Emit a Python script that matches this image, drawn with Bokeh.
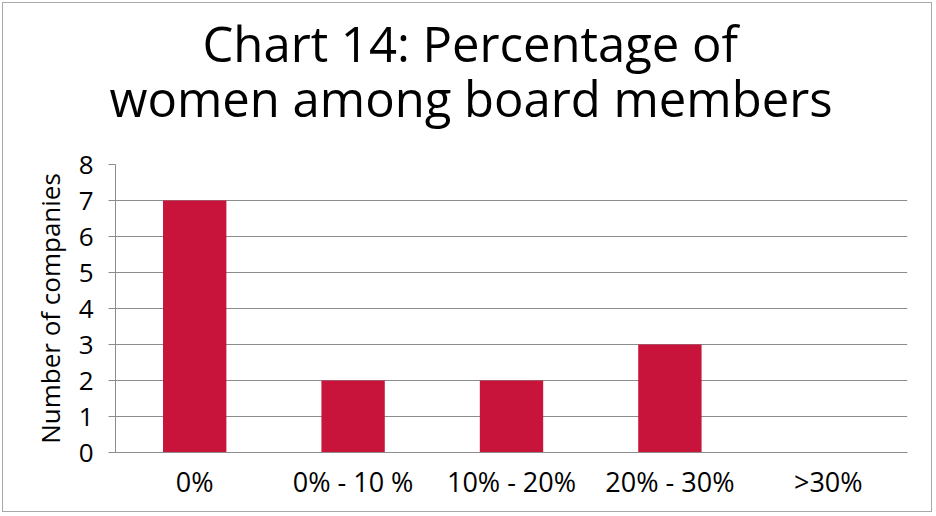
from bokeh.plotting import figure
from bokeh.models import ColumnDataSource, FixedTicker, Range1d, Title
from bokeh.embed import file_html
from bokeh.resources import INLINE

categories = ["0%", "0% - 10 %", "10% - 20%", "20% - 30%", ">30%"]
companies = [7, 2, 2, 3, 0]
y_ticks = [0, 1, 2, 3, 4, 5, 6, 7, 8]
title_lines = ["Chart 14: Percentage of", "women among board members"]

FONT = "Open Sans"
source = ColumnDataSource(data=dict(cat=categories, val=companies))

p = figure(x_range=categories, width=930, height=510, output_backend="svg", title=None,
           toolbar_location=None, min_border_left=112, min_border_right=26,
           min_border_top=161, min_border_bottom=61)
p.y_range = Range1d(0, 8)

# spacer between plot and title, then second line, then first line (outermost)
p.add_layout(Title(text=" ", text_font=FONT, text_font_size="20px", standoff=18), "above")
p.add_layout(Title(text=title_lines[1], align="left", offset=-6, standoff=-26,
                   text_font=FONT, text_font_size="49px", text_font_style="normal",
                   text_color="#000000"), "above")
p.add_layout(Title(text=title_lines[0], align="left", offset=87, standoff=0,
                   text_font=FONT, text_font_size="49px", text_font_style="normal",
                   text_color="#000000"), "above")

p.vbar(x="cat", top="val", width=0.4, source=source, fill_color="#C8143A", line_color=None)

p.outline_line_color = None
p.xgrid.grid_line_color = None
p.ygrid.grid_line_color = "#8c8c8c"
p.ygrid.grid_line_width = 1.2

p.yaxis.ticker = FixedTicker(ticks=y_ticks)
p.yaxis.axis_line_color = "#8c8c8c"
p.yaxis.major_tick_line_color = "#8c8c8c"
p.yaxis.major_tick_out = 7
p.yaxis.major_tick_in = 0
p.yaxis.minor_tick_line_color = None
p.yaxis.major_label_text_font = FONT
p.yaxis.major_label_text_font_size = "26px"
p.yaxis.major_label_text_color = "#000000"
p.yaxis.major_label_standoff = 15
p.yaxis.axis_label = "Number of companies"
p.yaxis.axis_label_text_font = FONT
p.yaxis.axis_label_text_font_style = "normal"
p.yaxis.axis_label_text_font_size = "26px"
p.yaxis.axis_label_text_color = "#000000"
p.yaxis.axis_label_standoff = 8

p.xaxis.axis_line_color = "#8c8c8c"
p.xaxis.major_tick_line_color = None
p.xaxis.major_tick_out = 0
p.xaxis.minor_tick_line_color = None
p.xaxis.major_label_text_font = FONT
p.xaxis.major_label_text_font_size = "27px"
p.xaxis.major_label_text_color = "#000000"
p.xaxis.major_label_standoff = 10

p.styles = {"border": "1px solid #a8a8a8", "margin": "2px"}

open("out.html", "w").write(file_html(p, INLINE))
